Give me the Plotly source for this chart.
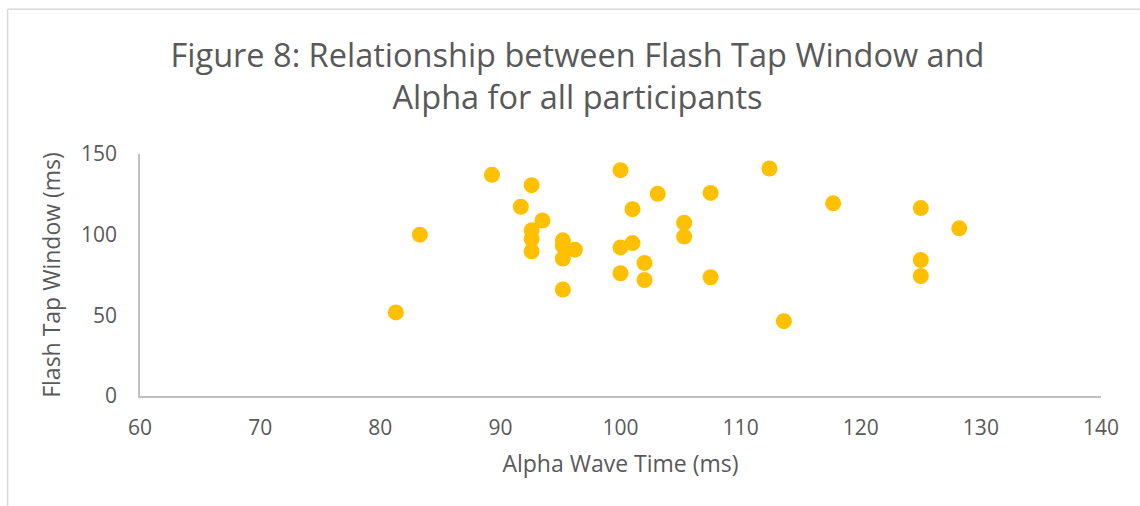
import plotly.graph_objects as go

# Alpha wave time (ms) and flash tap window (ms) per participant
alpha_ms = [81.3, 83.3, 89.3, 92.6, 91.7, 93.5, 92.6, 92.6, 92.6,
            95.2, 95.2, 95.2, 96.2, 95.2, 100.0, 100.0, 100.0,
            101.0, 101.0, 102.0, 102.0, 103.1, 105.3, 105.3,
            107.5, 107.5, 112.4, 113.6, 117.7, 125.0, 125.0, 125.0, 128.2]
window_ms = [51.8, 100.0, 137.1, 130.7, 117.3, 108.8, 102.7, 97.3, 89.7,
             96.5, 93.0, 85.2, 90.7, 66.0, 140.0, 92.1, 76.1,
             115.8, 94.8, 82.5, 71.9, 125.3, 107.4, 98.8,
             125.9, 73.6, 141.0, 46.4, 119.4, 116.5, 84.3, 74.4, 103.9]

x_ticks = [60, 70, 80, 90, 100, 110, 120, 130, 140]
y_ticks = [0, 50, 100, 150]

TEXT = "#595959"
AXIS = "#BFBFBF"
FONT = "Open Sans"

fig = go.Figure(
    go.Scatter(
        x=alpha_ms, y=window_ms, mode="markers",
        marker=dict(size=16, color="#FFC000", line=dict(width=0)),
        showlegend=False,
    )
)

fig.update_layout(
    width=1140, height=506,
    margin=dict(l=139.5, r=39, t=153.5, b=110),
    paper_bgcolor="white", plot_bgcolor="white",
    font=dict(family=FONT, color=TEXT),
    title=dict(
        text="Figure 8: Relationship between Flash Tap Window and<br>Alpha for all participants",
        x=577.5 / 1140, xanchor="center", xref="container",
        y=1 - 67 / 506, yanchor="middle", yref="container",
        font=dict(family=FONT, size=32.5, color=TEXT),
    ),
    xaxis=dict(
        range=[60, 140], tickvals=x_ticks, ticktext=[str(v) for v in x_ticks],
        showgrid=False, zeroline=False, showline=True, linecolor=AXIS, linewidth=1.5,
        ticks="", tickfont=dict(size=21, color=TEXT), ticklabelstandoff=12,
        title=dict(text="Alpha Wave Time (ms)", font=dict(size=23, color=TEXT), standoff=16),
    ),
    yaxis=dict(
        range=[0, 150], tickvals=y_ticks, ticktext=[str(v) for v in y_ticks],
        showgrid=False, zeroline=False, showline=True, linecolor=AXIS, linewidth=1.5,
        ticks="", tickfont=dict(size=21, color=TEXT), ticklabelstandoff=17,
        title=dict(text="Flash Tap Window (ms)", font=dict(size=23, color=TEXT), standoff=14),
    ),
)

# Thin chart-area border along the top and left edges
border = dict(color="#D9D9D9", width=1.5)
fig.add_shape(type="line", xref="paper", yref="paper",
              x0=-0.1378, x1=1.17, y0=1.598, y1=1.598, line=border)
fig.add_shape(type="line", xref="paper", yref="paper",
              x0=-0.1378, x1=-0.1378, y0=1.598, y1=-0.46, line=border)

fig.write_html("out.html")
